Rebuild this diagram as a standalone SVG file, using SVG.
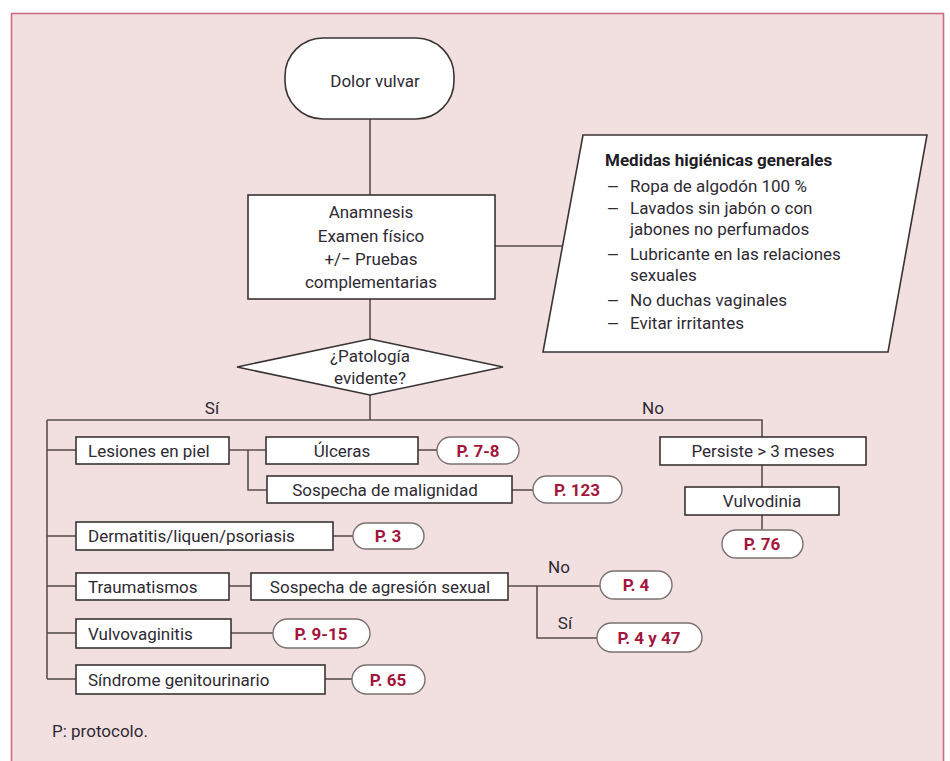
<svg xmlns="http://www.w3.org/2000/svg" width="950" height="761" viewBox="0 0 950 761">
<style>
text{font-family:Roboto,"Liberation Sans",sans-serif;font-size:17px;fill:#2e2a33}
.c{text-anchor:middle}
.b{font-weight:bold;fill:#1f1d26}
.d{font-size:15px}
.p{font-weight:bold;fill:#a3173d;text-anchor:middle}
.box{fill:#fff;stroke:#3a3434;stroke-width:1.6}
.pill{fill:#fff;stroke:#7a7070;stroke-width:1.4}
.ln{fill:none;stroke:#5a4e4e;stroke-width:1.6}
</style>
<rect x="0" y="0" width="950" height="761" fill="#fff"/>
<rect x="11.5" y="13.5" width="932" height="770" fill="#f2e0e0" stroke="#c96d80" stroke-width="1.6"/>

<g id="connectors">
<path class="ln" d="M370 119V195"/>
<path class="ln" d="M495 246H563"/>
<path class="ln" d="M370 299V339"/>
<path class="ln" d="M370 395V420"/>
<path class="ln" d="M47 420H762V437"/>
<path class="ln" d="M47 420V679"/>
<path class="ln" d="M47 450H76"/>
<path class="ln" d="M229 450H266"/>
<path class="ln" d="M248 450V490H267"/>
<path class="ln" d="M418 450H437"/>
<path class="ln" d="M512 490H533"/>
<path class="ln" d="M47 536H76"/>
<path class="ln" d="M333 536H353"/>
<path class="ln" d="M47 586H76"/>
<path class="ln" d="M229 586H251"/>
<path class="ln" d="M508 586H600"/>
<path class="ln" d="M537 586V638H597"/>
<path class="ln" d="M47 633H76"/>
<path class="ln" d="M231 633H273"/>
<path class="ln" d="M47 679H76"/>
<path class="ln" d="M325 679H352"/>
<path class="ln" d="M762 465V487"/>
<path class="ln" d="M762 515V530"/>
<text x="212" y="414" class="c">Sí</text>
<text x="653" y="414" class="c">No</text>
<text x="559" y="573" class="c">No</text>
<text x="565" y="629" class="c">Sí</text>
</g>

<g id="start">
<rect x="285" y="38" width="169" height="81" rx="38" ry="38" class="box" stroke="#555"/>
<text x="375" y="87" class="c">Dolor vulvar</text>
</g>

<g id="anamnesis">
<rect x="248" y="195" width="247" height="104" class="box"/>
<text x="371" y="218" class="c">Anamnesis</text>
<text x="371" y="242" class="c">Examen físico</text>
<text x="371" y="265" class="c">+/− Pruebas</text>
<text x="371" y="288" class="c">complementarias</text>
</g>

<g id="medidas">
<polygon points="583,135 927,135 888,352 543,352" class="box" stroke="#555"/>
<text x="605" y="166" class="b">Medidas higiénicas generales</text>
<text x="607" y="192" class="d">—</text><text x="630" y="192">Ropa de algodón 100 %</text>
<text x="607" y="214" class="d">—</text><text x="630" y="214">Lavados sin jabón o con</text>
<text x="630" y="235">jabones no perfumados</text>
<text x="607" y="260" class="d">—</text><text x="630" y="260">Lubricante en las relaciones</text>
<text x="630" y="281">sexuales</text>
<text x="607" y="306" class="d">—</text><text x="630" y="306">No duchas vaginales</text>
<text x="607" y="329" class="d">—</text><text x="630" y="329">Evitar irritantes</text>
</g>

<g id="decision">
<polygon points="370,339 503,367 370,395 237,367" class="box" stroke="#555"/>
<text x="370" y="362" class="c">¿Patología</text>
<text x="370" y="384" class="c">evidente?</text>
</g>

<g id="lesiones">
<rect x="76" y="437" width="153" height="27" class="box"/>
<text x="88" y="457">Lesiones en piel</text>
</g>
<g id="ulceras">
<rect x="266" y="437" width="152" height="27" class="box"/>
<text x="342" y="457" class="c">Úlceras</text>
</g>
<g id="p78">
<rect x="437" y="437" width="82" height="27" rx="13.5" class="pill"/>
<text x="478" y="457" class="p">P. 7-8</text>
</g>
<g id="malignidad">
<rect x="267" y="476" width="245" height="27" class="box"/>
<text x="385" y="496" class="c">Sospecha de malignidad</text>
</g>
<g id="p123">
<rect x="533" y="476" width="89" height="27" rx="13.5" class="pill"/>
<text x="577" y="496" class="p">P. 123</text>
</g>
<g id="dermatitis">
<rect x="76" y="522" width="257" height="28" class="box"/>
<text x="88" y="542">Dermatitis/liquen/psoriasis</text>
</g>
<g id="p3">
<rect x="353" y="523" width="71" height="26" rx="13" class="pill"/>
<text x="388" y="542" class="p">P. 3</text>
</g>
<g id="traumatismos">
<rect x="76" y="573" width="153" height="27" class="box"/>
<text x="88" y="593">Traumatismos</text>
</g>
<g id="agresion">
<rect x="251" y="573" width="257" height="27" class="box"/>
<text x="380" y="593" class="c">Sospecha de agresión sexual</text>
</g>
<g id="p4">
<rect x="600" y="571" width="72" height="28" rx="14" class="pill"/>
<text x="636" y="591" class="p">P. 4</text>
</g>
<g id="p447">
<rect x="597" y="623" width="105" height="29" rx="14.5" class="pill"/>
<text x="649" y="644" class="p">P. 4 y 47</text>
</g>
<g id="vulvovaginitis">
<rect x="76" y="619" width="155" height="29" class="box"/>
<text x="88" y="640">Vulvovaginitis</text>
</g>
<g id="p915">
<rect x="273" y="619" width="97" height="29" rx="14.5" class="pill"/>
<text x="321" y="640" class="p">P. 9-15</text>
</g>
<g id="sindrome">
<rect x="76" y="665" width="249" height="29" class="box"/>
<text x="88" y="686">Síndrome genitourinario</text>
</g>
<g id="p65">
<rect x="352" y="665" width="73" height="29" rx="14.5" class="pill"/>
<text x="388" y="686" class="p">P. 65</text>
</g>
<g id="persiste">
<rect x="660" y="437" width="206" height="28" class="box"/>
<text x="763" y="457" class="c">Persiste &gt; 3 meses</text>
</g>
<g id="vulvodinia">
<rect x="685" y="487" width="154" height="28" class="box"/>
<text x="762" y="507" class="c">Vulvodinia</text>
</g>
<g id="p76">
<rect x="722" y="530" width="81" height="28" rx="14" class="pill"/>
<text x="762" y="550" class="p">P. 76</text>
</g>

<text x="52" y="737">P: protocolo.</text>
</svg>
